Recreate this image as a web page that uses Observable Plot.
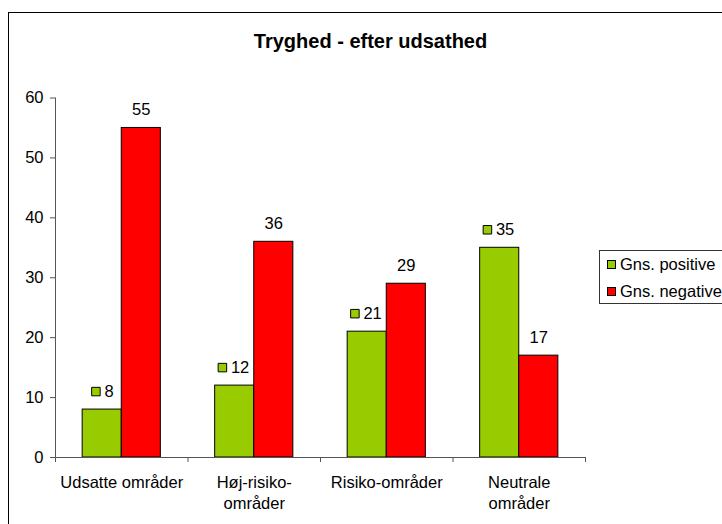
<!DOCTYPE html>
<html><head><meta charset="utf-8">
<script src="https://cdn.jsdelivr.net/npm/d3@7"></script>
<script src="https://cdn.jsdelivr.net/npm/@observablehq/plot@0.6"></script>
<style>
html,body{margin:0;padding:0;background:#fff;overflow:hidden;}
#wrap{position:relative;width:722px;height:524px;font-family:"Liberation Sans",Arial,sans-serif;color:#000;}
#wrap svg{position:absolute;left:0;top:0;}
#frame{position:absolute;left:8px;top:12px;width:760px;height:600px;border:1px solid #000;box-sizing:border-box;pointer-events:none;}
#title{position:absolute;left:0;width:741px;top:31px;text-align:center;font-weight:bold;font-size:20px;line-height:20px;}
#legend{position:absolute;left:599px;top:250px;width:150px;height:54px;border:1px solid #333;box-sizing:border-box;background:#fff;font-size:16.5px;}
.li{position:absolute;left:7px;height:18px;line-height:18px;white-space:nowrap;}
.sw{display:inline-block;width:7px;height:7px;border:1px solid #000;margin-right:4px;vertical-align:middle;position:relative;top:-1px;}
</style>
</head><body>
<div id="wrap"></div>
<script>
const title = "Tryghed - efter udsathed";
const categories = ["Udsatte områder", "Høj-risiko-\nområder", "Risiko-områder", "Neutrale\nområder"];
const seriesNames = ["Gns. positive", "Gns. negative"];
const positive = [8, 12, 21, 35];
const negative = [55, 36, 29, 17];
const yTicks = [0, 10, 20, 30, 40, 50, 60];
const colors = ["#99CC00", "#FF0000"];

const data = categories.flatMap((c, i) => [
  {cat: c, i, k: 0, series: seriesNames[0], value: positive[i]},
  {cat: c, i, k: 1, series: seriesNames[1], value: negative[i]}
]);
const gap = 0.205;
const x1 = d => d.i + (d.k === 0 ? gap : 0.5);
const x2 = d => d.i + (d.k === 0 ? 0.5 : 1 - gap);
const xc = d => (x1(d) + x2(d)) / 2;
const green = data.filter(d => d.k === 0);
const red = data.filter(d => d.k === 1);
const axisColor = "#555";
const fs = 16.5;

function greenLabels(rows, sqDx) {
  return [
    Plot.dot(rows, {x: xc, y: "value", dy: -18, dx: sqDx, symbol: "square", r: 4.8, fill: colors[0], stroke: "#000", strokeWidth: 1}),
    Plot.text(rows, {x: xc, y: "value", dy: -18, dx: sqDx + 8.5, text: d => String(d.value), textAnchor: "start", lineAnchor: "middle", fontSize: fs, fill: "#000"})
  ];
}

const chart = Plot.plot({
  width: 722,
  height: 524,
  marginLeft: 55,
  marginRight: 137,
  marginTop: 97.5,
  marginBottom: 67,
  x: {domain: [0, 4]},
  y: {domain: [0, 60]},
  color: {domain: seriesNames, range: colors},
  style: {fontFamily: '"Liberation Sans", Arial, sans-serif', fontSize: fs + "px", background: "transparent", color: "#000"},
  marks: [
    Plot.rectY(data, {x1, x2, y: "value", fill: "series", stroke: "#000", strokeWidth: 1}),
    Plot.ruleX([0], {x: d => d, y1: 0, y2: 60, stroke: axisColor}),
    Plot.ruleY([0], {y: d => d, x1: 0, x2: 4, stroke: axisColor}),
    Plot.axisY({ticks: yTicks, tickSize: 5, tickPadding: 7, tickFormat: d => String(d), label: null, stroke: axisColor, fill: "#000", fontSize: fs}),
    Plot.axisX({ticks: [0, 1, 2, 3, 4], tickSize: 5, tickFormat: () => "", label: null, stroke: axisColor}),
    Plot.text(categories, {x: (d, i) => i + 0.5, y: () => 0, text: d => d, lineAnchor: "top", dy: 15, lineHeight: 1.29, fontSize: fs, fill: "#000"}),
    Plot.text(red, {x: xc, y: "value", dy: -18, text: d => String(d.value), lineAnchor: "middle", fontSize: fs, fill: "#000"}),
    ...greenLabels(green.filter(d => d.value < 10), -6.3),
    ...greenLabels(green.filter(d => d.value >= 10), -12.3)
  ]
});

const wrap = document.getElementById("wrap");
wrap.appendChild(chart);
const t = document.createElement("div");
t.id = "title"; t.textContent = title; wrap.appendChild(t);
const lg = document.createElement("div");
lg.id = "legend";
seriesNames.forEach((s, j) => {
  const li = document.createElement("div");
  li.className = "li";
  li.style.top = (j === 0 ? 4 : 31) + "px";
  const sw = document.createElement("span");
  sw.className = "sw"; sw.style.background = colors[j];
  li.appendChild(sw);
  li.appendChild(document.createTextNode(s));
  lg.appendChild(li);
});
wrap.appendChild(lg);
const f = document.createElement("div");
f.id = "frame"; wrap.appendChild(f);
</script>
</body></html>
